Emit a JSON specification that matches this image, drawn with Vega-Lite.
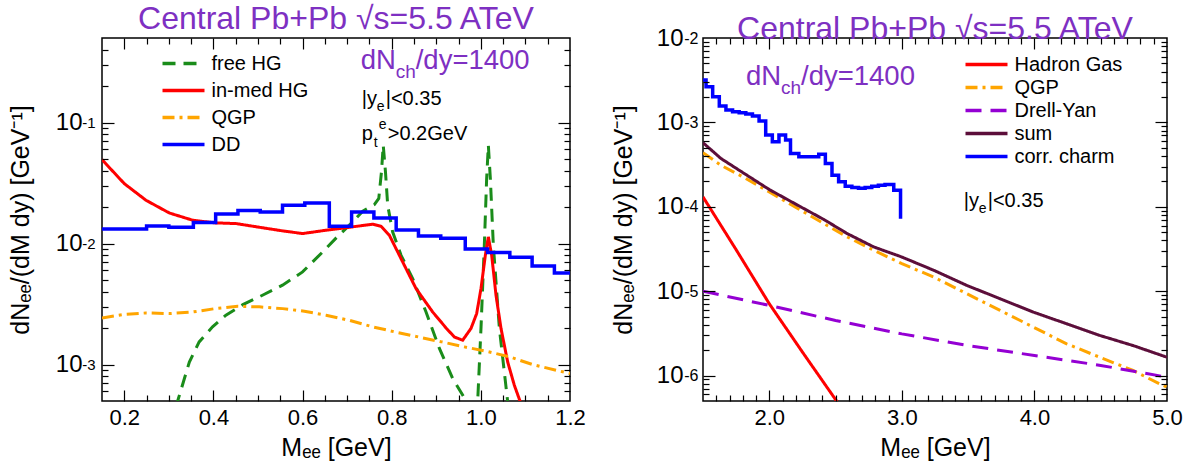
{
  "$schema": "https://vega.github.io/schema/vega-lite/v6.json",
  "padding": {"left": 7, "top": 2, "right": 0, "bottom": 0},
  "spacing": 23,
  "config": {
    "view": {"stroke": "#000", "strokeWidth": 1.5},
    "font": "Liberation Sans",
    "axis": {"grid": false, "domain": false, "tickColor": "#000", "tickWidth": 1.2, "labelColor": "#000", "titleColor": "#000", "labelFont": "Liberation Sans", "titleFont": "Liberation Sans", "titleFontWeight": "normal", "labelOverlap": false, "labelFlush": false},
    "title": {"font": "Liberation Sans", "fontSize": 32, "fontWeight": "normal", "color": "#7E30C2", "anchor": "middle"}
  },
  "resolve": {"scale": {"color": "independent", "strokeDash": "independent"}, "legend": {"color": "independent", "strokeDash": "independent"}},
  "datasets": {
    "leftCurves": [
      {"M":0.305,"v":0.0003,"s":"free HG"},{"M":0.3198,"v":0.0005,"s":"free HG"},{"M":0.346,"v":0.00105,"s":"free HG"},{"M":0.368,"v":0.00154,"s":"free HG"},{"M":0.398,"v":0.00205,"s":"free HG"},{"M":0.428,"v":0.00256,"s":"free HG"},{"M":0.466,"v":0.00313,"s":"free HG"},{"M":0.51,"v":0.00374,"s":"free HG"},{"M":0.555,"v":0.00453,"s":"free HG"},{"M":0.6,"v":0.00583,"s":"free HG"},{"M":0.645,"v":0.00853,"s":"free HG"},{"M":0.675,"v":0.0111,"s":"free HG"},{"M":0.705,"v":0.0142,"s":"free HG"},{"M":0.735,"v":0.0185,"s":"free HG"},{"M":0.761,"v":0.021,"s":"free HG"},{"M":0.771,"v":0.0236,"s":"free HG"},{"M":0.777,"v":0.0391,"s":"free HG"},{"M":0.781,"v":0.065,"s":"free HG"},{"M":0.786,"v":0.0391,"s":"free HG"},{"M":0.791,"v":0.0207,"s":"free HG"},{"M":0.802,"v":0.0125,"s":"free HG"},{"M":0.821,"v":0.008,"s":"free HG"},{"M":0.847,"v":0.00514,"s":"free HG"},{"M":0.877,"v":0.00272,"s":"free HG"},{"M":0.907,"v":0.00136,"s":"free HG"},{"M":0.937,"v":0.000766,"s":"free HG"},{"M":0.967,"v":0.0005,"s":"free HG"},{"M":0.975,"v":0.0003,"s":"free HG"},{"M":0.99,"v":0.0003,"s":"free HG"},{"M":0.9929,"v":0.0005,"s":"free HG"},{"M":1.0003,"v":0.002,"s":"free HG"},{"M":1.0078,"v":0.0097,"s":"free HG"},{"M":1.013,"v":0.0344,"s":"free HG"},{"M":1.0168,"v":0.065,"s":"free HG"},{"M":1.0213,"v":0.0344,"s":"free HG"},{"M":1.028,"v":0.0097,"s":"free HG"},{"M":1.0415,"v":0.002,"s":"free HG"},{"M":1.06,"v":0.0005,"s":"free HG"},{"M":1.07,"v":0.0003,"s":"free HG"},
      {"M":0.15,"v":0.0494,"s":"in-med HG"},{"M":0.2,"v":0.0313,"s":"in-med HG"},{"M":0.2487,"v":0.0228,"s":"in-med HG"},{"M":0.301,"v":0.0179,"s":"in-med HG"},{"M":0.3534,"v":0.0156,"s":"in-med HG"},{"M":0.4035,"v":0.01483,"s":"in-med HG"},{"M":0.4507,"v":0.01463,"s":"in-med HG"},{"M":0.503,"v":0.01364,"s":"in-med HG"},{"M":0.5553,"v":0.01273,"s":"in-med HG"},{"M":0.6002,"v":0.0121,"s":"in-med HG"},{"M":0.6526,"v":0.01289,"s":"in-med HG"},{"M":0.705,"v":0.01364,"s":"in-med HG"},{"M":0.7573,"v":0.01445,"s":"in-med HG"},{"M":0.776,"v":0.0139,"s":"in-med HG"},{"M":0.7947,"v":0.01172,"s":"in-med HG"},{"M":0.8246,"v":0.00705,"s":"in-med HG"},{"M":0.8545,"v":0.00425,"s":"in-med HG"},{"M":0.8919,"v":0.00272,"s":"in-med HG"},{"M":0.9218,"v":0.00201,"s":"in-med HG"},{"M":0.9405,"v":0.00169,"s":"in-med HG"},{"M":0.9592,"v":0.00159,"s":"in-med HG"},{"M":0.9779,"v":0.00199,"s":"in-med HG"},{"M":0.9906,"v":0.00264,"s":"in-med HG"},{"M":1.0003,"v":0.00425,"s":"in-med HG"},{"M":1.0101,"v":0.00801,"s":"in-med HG"},{"M":1.0168,"v":0.01136,"s":"in-med HG"},{"M":1.0243,"v":0.00801,"s":"in-med HG"},{"M":1.034,"v":0.00374,"s":"in-med HG"},{"M":1.0452,"v":0.00199,"s":"in-med HG"},{"M":1.0602,"v":0.00105,"s":"in-med HG"},{"M":1.0751,"v":0.000675,"s":"in-med HG"},{"M":1.0878,"v":0.0005,"s":"in-med HG"},{"M":1.1,"v":0.0003,"s":"in-med HG"},
      {"M":0.15,"v":0.00243,"s":"QGP"},{"M":0.1964,"v":0.00259,"s":"QGP"},{"M":0.2487,"v":0.00267,"s":"QGP"},{"M":0.301,"v":0.00264,"s":"QGP"},{"M":0.3534,"v":0.00272,"s":"QGP"},{"M":0.4035,"v":0.0029,"s":"QGP"},{"M":0.4544,"v":0.00303,"s":"QGP"},{"M":0.503,"v":0.003,"s":"QGP"},{"M":0.5553,"v":0.0029,"s":"QGP"},{"M":0.604,"v":0.00276,"s":"QGP"},{"M":0.6526,"v":0.00256,"s":"QGP"},{"M":0.705,"v":0.00232,"s":"QGP"},{"M":0.7573,"v":0.00205,"s":"QGP"},{"M":0.8081,"v":0.00186,"s":"QGP"},{"M":0.8605,"v":0.00169,"s":"QGP"},{"M":0.9121,"v":0.00154,"s":"QGP"},{"M":0.963,"v":0.0014,"s":"QGP"},{"M":1.0116,"v":0.00129,"s":"QGP"},{"M":1.0639,"v":0.00116,"s":"QGP"},{"M":1.1163,"v":0.001,"s":"QGP"},{"M":1.2,"v":0.000843,"s":"QGP"}
    ],
    "leftDD": [
      {"M":0.15,"v":0.01321,"s":"DD"},{"M":0.25,"v":0.014,"s":"DD"},{"M":0.3,"v":0.01364,"s":"DD"},{"M":0.355,"v":0.01493,"s":"DD"},{"M":0.405,"v":0.01758,"s":"DD"},{"M":0.455,"v":0.01874,"s":"DD"},{"M":0.505,"v":0.01827,"s":"DD"},{"M":0.555,"v":0.02075,"s":"DD"},{"M":0.605,"v":0.02169,"s":"DD"},{"M":0.66,"v":0.0139,"s":"DD"},{"M":0.71,"v":0.01827,"s":"DD"},{"M":0.76,"v":0.0163,"s":"DD"},{"M":0.81,"v":0.01297,"s":"DD"},{"M":0.86,"v":0.01156,"s":"DD"},{"M":0.91,"v":0.01106,"s":"DD"},{"M":0.965,"v":0.00903,"s":"DD"},{"M":1.015,"v":0.00843,"s":"DD"},{"M":1.065,"v":0.00771,"s":"DD"},{"M":1.115,"v":0.00653,"s":"DD"},{"M":1.165,"v":0.00572,"s":"DD"},{"M":1.2,"v":0.00572,"s":"DD"}
    ],
    "rightCurves": [
      {"M":1.5,"v":0.000131,"s":"Hadron Gas"},{"M":1.75,"v":0.000031,"s":"Hadron Gas"},{"M":2.0,"v":0.0000071,"s":"Hadron Gas"},{"M":2.25,"v":0.0000019,"s":"Hadron Gas"},{"M":2.5,"v":0.00000052,"s":"Hadron Gas"},{"M":2.6,"v":0.0000003,"s":"Hadron Gas"},
      {"M":1.5,"v":0.000437,"s":"QGP"},{"M":1.635,"v":0.000311,"s":"QGP"},{"M":1.811,"v":0.000222,"s":"QGP"},{"M":2.0,"v":0.00015,"s":"QGP"},{"M":2.237,"v":0.000091,"s":"QGP"},{"M":2.413,"v":0.0000632,"s":"QGP"},{"M":2.588,"v":0.0000439,"s":"QGP"},{"M":2.789,"v":0.0000305,"s":"QGP"},{"M":3.0,"v":0.0000212,"s":"QGP"},{"M":3.24,"v":0.0000147,"s":"QGP"},{"M":3.49,"v":0.00000933,"s":"QGP"},{"M":3.741,"v":0.00000592,"s":"QGP"},{"M":3.992,"v":0.00000375,"s":"QGP"},{"M":4.243,"v":0.00000238,"s":"QGP"},{"M":4.493,"v":0.00000165,"s":"QGP"},{"M":4.744,"v":0.00000115,"s":"QGP"},{"M":4.944,"v":0.000000798,"s":"QGP"},{"M":5.0,"v":0.000000728,"s":"QGP"},
      {"M":1.5,"v":0.00001,"s":"Drell-Yan"},{"M":2.0,"v":0.00000678,"s":"Drell-Yan"},{"M":2.5,"v":0.0000045,"s":"Drell-Yan"},{"M":3.0,"v":0.00000312,"s":"Drell-Yan"},{"M":3.5,"v":0.00000227,"s":"Drell-Yan"},{"M":4.0,"v":0.00000173,"s":"Drell-Yan"},{"M":4.5,"v":0.00000132,"s":"Drell-Yan"},{"M":5.0,"v":0.000000958,"s":"Drell-Yan"},
      {"M":1.5,"v":0.000574,"s":"sum"},{"M":1.635,"v":0.000374,"s":"sum"},{"M":1.811,"v":0.000248,"s":"sum"},{"M":2.0,"v":0.00016,"s":"sum"},{"M":2.237,"v":0.0000998,"s":"sum"},{"M":2.413,"v":0.0000705,"s":"sum"},{"M":2.588,"v":0.0000481,"s":"sum"},{"M":2.789,"v":0.0000334,"s":"sum"},{"M":3.0,"v":0.0000254,"s":"sum"},{"M":3.24,"v":0.0000177,"s":"sum"},{"M":3.49,"v":0.0000117,"s":"sum"},{"M":3.741,"v":0.00000814,"s":"sum"},{"M":3.992,"v":0.00000565,"s":"sum"},{"M":4.243,"v":0.00000411,"s":"sum"},{"M":4.493,"v":0.00000299,"s":"sum"},{"M":4.744,"v":0.00000227,"s":"sum"},{"M":5.0,"v":0.00000165,"s":"sum"}
    ],
    "rightCharm": [
      {"M":1.5,"v":0.00319,"s":"corr. charm"},{"M":1.523,"v":0.00265,"s":"corr. charm"},{"M":1.573,"v":0.00202,"s":"corr. charm"},{"M":1.623,"v":0.00156,"s":"corr. charm"},{"M":1.673,"v":0.0014,"s":"corr. charm"},{"M":1.723,"v":0.00134,"s":"corr. charm"},{"M":1.773,"v":0.0013,"s":"corr. charm"},{"M":1.823,"v":0.00126,"s":"corr. charm"},{"M":1.873,"v":0.00119,"s":"corr. charm"},{"M":1.923,"v":0.00104,"s":"corr. charm"},{"M":1.973,"v":0.000707,"s":"corr. charm"},{"M":2.023,"v":0.000589,"s":"corr. charm"},{"M":2.073,"v":0.000707,"s":"corr. charm"},{"M":2.123,"v":0.000617,"s":"corr. charm"},{"M":2.16,"v":0.000428,"s":"corr. charm"},{"M":2.223,"v":0.000391,"s":"corr. charm"},{"M":2.373,"v":0.00042,"s":"corr. charm"},{"M":2.423,"v":0.000326,"s":"corr. charm"},{"M":2.473,"v":0.000237,"s":"corr. charm"},{"M":2.523,"v":0.000198,"s":"corr. charm"},{"M":2.573,"v":0.000175,"s":"corr. charm"},{"M":2.623,"v":0.000169,"s":"corr. charm"},{"M":2.673,"v":0.000166,"s":"corr. charm"},{"M":2.723,"v":0.000169,"s":"corr. charm"},{"M":2.773,"v":0.000175,"s":"corr. charm"},{"M":2.823,"v":0.00018,"s":"corr. charm"},{"M":2.873,"v":0.000184,"s":"corr. charm"},{"M":2.939,"v":0.000157,"s":"corr. charm"},{"M":2.99,"v":0.000157,"s":"corr. charm"},{"M":2.9901,"v":0.000072,"s":"corr. charm"}
    ],
    "annL1": [{"M":0.7304,"v":0.2767}],
    "annL2": [{"M":0.7327,"v":0.1393}],
    "annL3": [{"M":0.7327,"v":0.0714}],
    "annR1": [{"M":1.8244,"v":0.002767}],
    "annR2": [{"M":3.4665,"v":0.000099}]
  },
  "hconcat": [
    {
      "width": 468, "height": 363,
      "title": {"text": "Central Pb+Pb √s=5.5 ATeV", "offset": 1},
      "layer": [
        {
          "data": {"name": "leftCurves"},
          "mark": {"type": "line", "strokeWidth": 3, "clip": true},
          "encoding": {
            "x": {"field": "M", "type": "quantitative", "scale": {"domain": [0.15, 1.2], "zero": false, "nice": false},
                  "axis": {"orient": "bottom", "values": [0.2,0.4,0.6,0.8,1.0,1.2], "format": ".1f", "ticks": false, "labelPadding": 6, "labelFontSize": 22, "title": "Mₑₑ [GeV]", "titleFontSize": 25, "titlePadding": 7}},
            "y": {"field": "v", "type": "quantitative", "scale": {"type": "log", "domain": [0.0005, 0.5], "nice": false},
                  "axis": {"orient": "left", "values": [0.001, 0.01, 0.1], "labelExpr": "'10'", "ticks": false, "labelPadding": 20, "labelFontSize": 24, "labelAlign": "right", "labelBaseline": "middle", "title": "dNₑₑ/(dM dy) [GeV⁻¹]", "titleFontSize": 25, "titlePadding": 22}},
            "color": {"field": "s", "type": "nominal", "scale": {"domain": ["free HG", "in-med HG", "QGP", "DD"], "range": ["#1A8C1A", "#FF0000", "#FFA500", "#0000FF"]},
                      "legend": {"orient": "none", "legendX": 69, "legendY": 13, "title": null, "symbolType": "M-2,0L2,0", "symbolSize": 441, "symbolStrokeWidth": 3.5, "symbolFillColor": "transparent", "labelFontSize": 20, "labelFont": "Liberation Sans", "labelColor": "#000", "labelOffset": 15.5, "rowPadding": 4, "padding": 0}},
            "strokeDash": {"field": "s", "type": "nominal", "scale": {"domain": ["free HG", "in-med HG", "QGP", "DD"], "range": [[13, 8], [1, 0], [12, 5, 3, 5], [1, 0]]},
                      "legend": {"orient": "none", "legendX": 69, "legendY": 13, "title": null, "symbolType": "M-2,0L2,0", "symbolSize": 441, "symbolStrokeWidth": 3.5, "symbolFillColor": "transparent", "labelFontSize": 20, "labelFont": "Liberation Sans", "labelColor": "#000", "labelOffset": 15.5, "rowPadding": 4, "padding": 0}}
          }
        },
        {
          "data": {"name": "leftDD"},
          "mark": {"type": "line", "strokeWidth": 3.5, "interpolate": "step-after"},
          "encoding": {
            "x": {"field": "M", "type": "quantitative", "scale": {"domain": [0.15, 1.2], "zero": false, "nice": false},
                  "axis": {"orient": "bottom", "values": [0.2,0.4,0.6,0.8,1.0], "labels": false, "ticks": true, "tickSize": 11, "offset": -11, "zindex": 2, "title": null}},
            "y": {"field": "v", "type": "quantitative", "scale": {"type": "log", "domain": [0.0005, 0.5], "nice": false},
                  "axis": {"orient": "left", "values": [0.001, 0.01, 0.1], "labels": false, "ticks": true, "tickSize": 12, "offset": -12, "zindex": 2, "title": null}},
            "color": {"field": "s", "type": "nominal", "scale": {"domain": ["free HG", "in-med HG", "QGP", "DD"], "range": ["#1A8C1A", "#FF0000", "#FFA500", "#0000FF"]}},
            "strokeDash": {"field": "s", "type": "nominal", "scale": {"domain": ["free HG", "in-med HG", "QGP", "DD"], "range": [[13, 8], [1, 0], [12, 5, 3, 5], [1, 0]]}}
          }
        },
        {
          "data": {"name": "annL1"},
          "mark": {"type": "text", "text": "dN", "fontSize": 27.5, "color": "#7E30C2", "align": "left", "baseline": "alphabetic"},
          "encoding": {
            "x": {"field": "M", "type": "quantitative", "scale": {"domain": [0.15, 1.2], "zero": false, "nice": false},
                  "axis": {"orient": "top", "values": [0.2,0.4,0.6,0.8,1.0], "labels": false, "ticks": true, "tickSize": 11, "offset": -11, "zindex": 2, "title": null}},
            "y": {"field": "v", "type": "quantitative", "scale": {"type": "log", "domain": [0.0005, 0.5], "nice": false},
                  "axis": {"orient": "right", "values": [0.001, 0.01, 0.1], "labels": false, "ticks": true, "tickSize": 12, "offset": -12, "zindex": 2, "title": null}}
          }
        },
        {
          "data": {"name": "annL1"},
          "mark": {"type": "text", "text": "ch", "fontSize": 19, "color": "#7E30C2", "align": "left", "baseline": "alphabetic", "dx": 35, "dy": 9},
          "encoding": {
            "x": {"field": "M", "type": "quantitative", "scale": {"domain": [0.15, 1.2], "zero": false, "nice": false},
                  "axis": {"orient": "top", "values": [0.25,0.3,0.35,0.45,0.5,0.55,0.65,0.7,0.75,0.85,0.9,0.95,1.05,1.1,1.15], "labels": false, "ticks": true, "tickSize": 6, "offset": -6, "zindex": 2, "title": null}},
            "y": {"field": "v", "type": "quantitative", "scale": {"type": "log", "domain": [0.0005, 0.5], "nice": false},
                  "axis": {"orient": "right", "values": [0.0006,0.0007,0.0008,0.0009,0.002,0.003,0.004,0.005,0.006,0.007,0.008,0.009,0.02,0.03,0.04,0.05,0.06,0.07,0.08,0.09,0.2,0.3,0.4], "labels": false, "ticks": true, "tickSize": 6, "offset": -6, "zindex": 2, "title": null}}
          }
        },
        {
          "data": {"name": "annL1"},
          "mark": {"type": "text", "text": "/dy=1400", "fontSize": 27.5, "color": "#7E30C2", "align": "left", "baseline": "alphabetic", "dx": 55},
          "encoding": {
            "x": {"field": "M", "type": "quantitative", "scale": {"domain": [0.15, 1.2], "zero": false, "nice": false},
                  "axis": {"orient": "bottom", "values": [0.25,0.3,0.35,0.45,0.5,0.55,0.65,0.7,0.75,0.85,0.9,0.95,1.05,1.1,1.15], "labels": false, "ticks": true, "tickSize": 6, "offset": -6, "zindex": 2, "title": null}},
            "y": {"field": "v", "type": "quantitative", "scale": {"type": "log", "domain": [0.0005, 0.5], "nice": false},
                  "axis": {"orient": "left", "values": [0.0006,0.0007,0.0008,0.0009,0.002,0.003,0.004,0.005,0.006,0.007,0.008,0.009,0.02,0.03,0.04,0.05,0.06,0.07,0.08,0.09,0.2,0.3,0.4], "labels": false, "ticks": true, "tickSize": 6, "offset": -6, "zindex": 2, "title": null}}
          }
        },
        {
          "data": {"name": "annL2"},
          "mark": {"type": "text", "text": "|y", "fontSize": 20, "color": "#000", "align": "left", "baseline": "alphabetic"},
          "encoding": {
            "x": {"field": "M", "type": "quantitative", "scale": {"domain": [0.15, 1.2], "zero": false, "nice": false}, "axis": null},
            "y": {"field": "v", "type": "quantitative", "scale": {"type": "log", "domain": [0.0005, 0.5], "nice": false},
                  "axis": {"orient": "left", "values": [0.001, 0.01, 0.1], "labelExpr": "'-' + abs(round(log(datum.value)/LN10))", "ticks": false, "labelPadding": 7, "labelFontSize": 15, "labelAlign": "right", "labelBaseline": "middle", "labelDy": -10, "title": null}}
          }
        },
        {
          "data": {"name": "annL2"},
          "mark": {"type": "text", "text": "e", "fontSize": 14, "color": "#000", "align": "left", "baseline": "alphabetic", "dx": 15, "dy": 6},
          "encoding": {
            "x": {"field": "M", "type": "quantitative", "scale": {"domain": [0.15, 1.2], "zero": false, "nice": false}, "axis": null},
            "y": {"field": "v", "type": "quantitative", "scale": {"type": "log", "domain": [0.0005, 0.5], "nice": false}, "axis": null}
          }
        },
        {
          "data": {"name": "annL2"},
          "mark": {"type": "text", "text": "|<0.35", "fontSize": 20, "color": "#000", "align": "left", "baseline": "alphabetic", "dx": 24},
          "encoding": {
            "x": {"field": "M", "type": "quantitative", "scale": {"domain": [0.15, 1.2], "zero": false, "nice": false}, "axis": null},
            "y": {"field": "v", "type": "quantitative", "scale": {"type": "log", "domain": [0.0005, 0.5], "nice": false}, "axis": null}
          }
        },
        {
          "data": {"name": "annL3"},
          "mark": {"type": "text", "text": "p", "fontSize": 20, "color": "#000", "align": "left", "baseline": "alphabetic"},
          "encoding": {
            "x": {"field": "M", "type": "quantitative", "scale": {"domain": [0.15, 1.2], "zero": false, "nice": false}, "axis": null},
            "y": {"field": "v", "type": "quantitative", "scale": {"type": "log", "domain": [0.0005, 0.5], "nice": false}, "axis": null}
          }
        },
        {
          "data": {"name": "annL3"},
          "mark": {"type": "text", "text": "t", "fontSize": 14, "color": "#000", "align": "left", "baseline": "alphabetic", "dx": 12, "dy": 7},
          "encoding": {
            "x": {"field": "M", "type": "quantitative", "scale": {"domain": [0.15, 1.2], "zero": false, "nice": false}, "axis": null},
            "y": {"field": "v", "type": "quantitative", "scale": {"type": "log", "domain": [0.0005, 0.5], "nice": false}, "axis": null}
          }
        },
        {
          "data": {"name": "annL3"},
          "mark": {"type": "text", "text": "e", "fontSize": 14, "color": "#000", "align": "left", "baseline": "alphabetic", "dx": 17, "dy": -11},
          "encoding": {
            "x": {"field": "M", "type": "quantitative", "scale": {"domain": [0.15, 1.2], "zero": false, "nice": false}, "axis": null},
            "y": {"field": "v", "type": "quantitative", "scale": {"type": "log", "domain": [0.0005, 0.5], "nice": false}, "axis": null}
          }
        },
        {
          "data": {"name": "annL3"},
          "mark": {"type": "text", "text": ">0.2GeV", "fontSize": 20, "color": "#000", "align": "left", "baseline": "alphabetic", "dx": 26},
          "encoding": {
            "x": {"field": "M", "type": "quantitative", "scale": {"domain": [0.15, 1.2], "zero": false, "nice": false}, "axis": null},
            "y": {"field": "v", "type": "quantitative", "scale": {"type": "log", "domain": [0.0005, 0.5], "nice": false}, "axis": null}
          }
        }
      ],
      "resolve": {"axis": {"x": "independent", "y": "independent"}}
    },
    {
      "width": 464, "height": 363,
      "title": {"text": "Central Pb+Pb √s=5.5 ATeV", "offset": -20},
      "layer": [
        {
          "data": {"name": "rightCurves"},
          "mark": {"type": "line", "strokeWidth": 3, "clip": true},
          "encoding": {
            "x": {"field": "M", "type": "quantitative", "scale": {"domain": [1.5, 5.0], "zero": false, "nice": false},
                  "axis": {"orient": "bottom", "values": [2, 3, 4, 5], "format": ".1f", "ticks": false, "labelPadding": 6, "labelFontSize": 22, "title": "Mₑₑ [GeV]", "titleFontSize": 25, "titlePadding": 7}},
            "y": {"field": "v", "type": "quantitative", "scale": {"type": "log", "domain": [0.0000005, 0.01], "nice": false},
                  "axis": {"orient": "left", "values": [0.000001, 0.00001, 0.0001, 0.001, 0.01], "labelExpr": "'10'", "ticks": false, "labelPadding": 20, "labelFontSize": 24, "labelAlign": "right", "labelBaseline": "middle", "title": "dNₑₑ/(dM dy) [GeV⁻¹]", "titleFontSize": 25, "titlePadding": 20}},
            "color": {"field": "s", "type": "nominal", "scale": {"domain": ["Hadron Gas", "QGP", "Drell-Yan", "sum", "corr. charm"], "range": ["#FF0000", "#FFA500", "#9400D3", "#5C0E3A", "#0000FF"]},
                      "legend": {"orient": "none", "legendX": 271, "legendY": 14, "title": null, "symbolType": "M-2,0L2,0", "symbolSize": 441, "symbolStrokeWidth": 3.5, "symbolFillColor": "transparent", "labelFontSize": 20, "labelFont": "Liberation Sans", "labelColor": "#000", "labelOffset": 15.5, "rowPadding": 0, "padding": 0}},
            "strokeDash": {"field": "s", "type": "nominal", "scale": {"domain": ["Hadron Gas", "QGP", "Drell-Yan", "sum", "corr. charm"], "range": [[1, 0], [12, 5, 3, 5], [16, 9], [1, 0], [1, 0]]},
                      "legend": {"orient": "none", "legendX": 271, "legendY": 14, "title": null, "symbolType": "M-2,0L2,0", "symbolSize": 441, "symbolStrokeWidth": 3.5, "symbolFillColor": "transparent", "labelFontSize": 20, "labelFont": "Liberation Sans", "labelColor": "#000", "labelOffset": 15.5, "rowPadding": 0, "padding": 0}}
          }
        },
        {
          "data": {"name": "rightCharm"},
          "mark": {"type": "line", "strokeWidth": 3.5, "interpolate": "step-after"},
          "encoding": {
            "x": {"field": "M", "type": "quantitative", "scale": {"domain": [1.5, 5.0], "zero": false, "nice": false},
                  "axis": {"orient": "bottom", "values": [2, 3, 4], "labels": false, "ticks": true, "tickSize": 11, "offset": -11, "zindex": 2, "title": null}},
            "y": {"field": "v", "type": "quantitative", "scale": {"type": "log", "domain": [0.0000005, 0.01], "nice": false},
                  "axis": {"orient": "left", "values": [0.000001, 0.00001, 0.0001, 0.001], "labels": false, "ticks": true, "tickSize": 12, "offset": -12, "zindex": 2, "title": null}},
            "color": {"field": "s", "type": "nominal", "scale": {"domain": ["Hadron Gas", "QGP", "Drell-Yan", "sum", "corr. charm"], "range": ["#FF0000", "#FFA500", "#9400D3", "#5C0E3A", "#0000FF"]}},
            "strokeDash": {"field": "s", "type": "nominal", "scale": {"domain": ["Hadron Gas", "QGP", "Drell-Yan", "sum", "corr. charm"], "range": [[1, 0], [12, 5, 3, 5], [16, 9], [1, 0], [1, 0]]}}
          }
        },
        {
          "data": {"name": "annR1"},
          "mark": {"type": "text", "text": "dN", "fontSize": 27.5, "color": "#7E30C2", "align": "left", "baseline": "alphabetic"},
          "encoding": {
            "x": {"field": "M", "type": "quantitative", "scale": {"domain": [1.5, 5.0], "zero": false, "nice": false},
                  "axis": {"orient": "top", "values": [2, 3, 4], "labels": false, "ticks": true, "tickSize": 11, "offset": -11, "zindex": 2, "title": null}},
            "y": {"field": "v", "type": "quantitative", "scale": {"type": "log", "domain": [0.0000005, 0.01], "nice": false},
                  "axis": {"orient": "right", "values": [0.000001, 0.00001, 0.0001, 0.001], "labels": false, "ticks": true, "tickSize": 12, "offset": -12, "zindex": 2, "title": null}}
          }
        },
        {
          "data": {"name": "annR1"},
          "mark": {"type": "text", "text": "ch", "fontSize": 19, "color": "#7E30C2", "align": "left", "baseline": "alphabetic", "dx": 35, "dy": 9},
          "encoding": {
            "x": {"field": "M", "type": "quantitative", "scale": {"domain": [1.5, 5.0], "zero": false, "nice": false},
                  "axis": {"orient": "top", "values": [1.6,1.7,1.8,1.9,2.1,2.2,2.3,2.4,2.5,2.6,2.7,2.8,2.9,3.1,3.2,3.3,3.4,3.5,3.6,3.7,3.8,3.9,4.1,4.2,4.3,4.4,4.5,4.6,4.7,4.8,4.9], "labels": false, "ticks": true, "tickSize": 6, "offset": -6, "zindex": 2, "title": null}},
            "y": {"field": "v", "type": "quantitative", "scale": {"type": "log", "domain": [0.0000005, 0.01], "nice": false},
                  "axis": {"orient": "right", "values": [0.0000006,0.0000007,0.0000008,0.0000009,0.000002,0.000003,0.000004,0.000005,0.000006,0.000007,0.000008,0.000009,0.00002,0.00003,0.00004,0.00005,0.00006,0.00007,0.00008,0.00009,0.0002,0.0003,0.0004,0.0005,0.0006,0.0007,0.0008,0.0009,0.002,0.003,0.004,0.005,0.006,0.007,0.008,0.009], "labels": false, "ticks": true, "tickSize": 6, "offset": -6, "zindex": 2, "title": null}}
          }
        },
        {
          "data": {"name": "annR1"},
          "mark": {"type": "text", "text": "/dy=1400", "fontSize": 27.5, "color": "#7E30C2", "align": "left", "baseline": "alphabetic", "dx": 55},
          "encoding": {
            "x": {"field": "M", "type": "quantitative", "scale": {"domain": [1.5, 5.0], "zero": false, "nice": false},
                  "axis": {"orient": "bottom", "values": [1.6,1.7,1.8,1.9,2.1,2.2,2.3,2.4,2.5,2.6,2.7,2.8,2.9,3.1,3.2,3.3,3.4,3.5,3.6,3.7,3.8,3.9,4.1,4.2,4.3,4.4,4.5,4.6,4.7,4.8,4.9], "labels": false, "ticks": true, "tickSize": 6, "offset": -6, "zindex": 2, "title": null}},
            "y": {"field": "v", "type": "quantitative", "scale": {"type": "log", "domain": [0.0000005, 0.01], "nice": false},
                  "axis": {"orient": "left", "values": [0.0000006,0.0000007,0.0000008,0.0000009,0.000002,0.000003,0.000004,0.000005,0.000006,0.000007,0.000008,0.000009,0.00002,0.00003,0.00004,0.00005,0.00006,0.00007,0.00008,0.00009,0.0002,0.0003,0.0004,0.0005,0.0006,0.0007,0.0008,0.0009,0.002,0.003,0.004,0.005,0.006,0.007,0.008,0.009], "labels": false, "ticks": true, "tickSize": 6, "offset": -6, "zindex": 2, "title": null}}
          }
        },
        {
          "data": {"name": "annR2"},
          "mark": {"type": "text", "text": "|y", "fontSize": 20, "color": "#000", "align": "left", "baseline": "alphabetic"},
          "encoding": {
            "x": {"field": "M", "type": "quantitative", "scale": {"domain": [1.5, 5.0], "zero": false, "nice": false}, "axis": null},
            "y": {"field": "v", "type": "quantitative", "scale": {"type": "log", "domain": [0.0000005, 0.01], "nice": false},
                  "axis": {"orient": "left", "values": [0.000001, 0.00001, 0.0001, 0.001, 0.01], "labelExpr": "'-' + abs(round(log(datum.value)/LN10))", "ticks": false, "labelPadding": 5, "labelFontSize": 16, "labelAlign": "right", "labelBaseline": "middle", "labelDy": -10, "title": null}}
          }
        },
        {
          "data": {"name": "annR2"},
          "mark": {"type": "text", "text": "e", "fontSize": 14, "color": "#000", "align": "left", "baseline": "alphabetic", "dx": 15, "dy": 6},
          "encoding": {
            "x": {"field": "M", "type": "quantitative", "scale": {"domain": [1.5, 5.0], "zero": false, "nice": false}, "axis": null},
            "y": {"field": "v", "type": "quantitative", "scale": {"type": "log", "domain": [0.0000005, 0.01], "nice": false}, "axis": null}
          }
        },
        {
          "data": {"name": "annR2"},
          "mark": {"type": "text", "text": "|<0.35", "fontSize": 20, "color": "#000", "align": "left", "baseline": "alphabetic", "dx": 24},
          "encoding": {
            "x": {"field": "M", "type": "quantitative", "scale": {"domain": [1.5, 5.0], "zero": false, "nice": false}, "axis": null},
            "y": {"field": "v", "type": "quantitative", "scale": {"type": "log", "domain": [0.0000005, 0.01], "nice": false}, "axis": null}
          }
        }
      ],
      "resolve": {"axis": {"x": "independent", "y": "independent"}}
    }
  ]
}
